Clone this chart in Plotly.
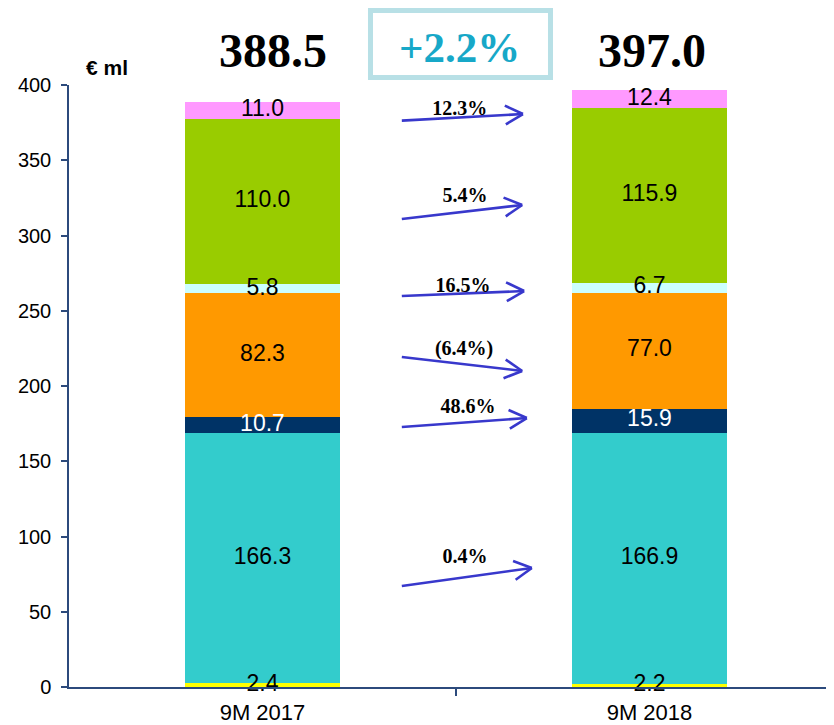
import math
import plotly.graph_objects as go

# ---------------- data ----------------
periods = ["9M 2017", "9M 2018"]
seg_colors = ["#FFFF00", "#33CCCC", "#003366", "#FF9900", "#CCFFFF", "#99CC00", "#FF99FF"]
seg_text_colors = ["black", "black", "white", "black", "black", "black", "black"]
values_2017 = [2.4, 166.3, 10.7, 82.3, 5.8, 110.0, 11.0]
values_2018 = [2.2, 166.9, 15.9, 77.0, 6.7, 115.9, 12.4]
totals = ["388.5", "397.0"]
growth_total = "+2.2%"
growth_labels = ["12.3%", "5.4%", "16.5%", "(6.4%)", "48.6%", "0.4%"]
y_ticks = [0, 50, 100, 150, 200, 250, 300, 350, 400]
unit_label = "€ ml"

# ---------------- arrow layout (positions, not data) ----------------
arrow_start = [(0.360, 376.3), (0.360, 311.0), (0.360, 259.8), (0.360, 219.3), (0.360, 172.8), (0.360, 67.1)]
arrow_end = [(0.673, 380.7), (0.671, 320.3), (0.676, 263.1), (0.671, 210.0), (0.683, 178.7), (0.696, 79.1)]
label_pos = [(0.510, 383.7), (0.523, 325.9), (0.518, 266.1), (0.521, 224.2), (0.531, 185.7), (0.523, 86.0)]

PX_X = 387.0   # pixels per category unit
PX_Y = 1.505   # pixels per value unit

series = [values_2017, values_2018]
fig = go.Figure()

# stacked bars
for k in range(len(seg_colors)):
    fig.add_trace(go.Bar(
        x=[0, 1],
        y=[values_2017[k], values_2018[k]],
        width=0.4,
        marker=dict(color=seg_colors[k], line=dict(width=0)),
        hoverinfo="skip",
        showlegend=False,
    ))

# segment labels
tx, ty, tt, tc = [], [], [], []
for i, vals in enumerate(series):
    cum = 0.0
    for k, v in enumerate(vals):
        tx.append(i)
        ty.append(cum + v / 2.0)
        tt.append(f"{v:.1f}")
        tc.append(seg_text_colors[k])
        cum += v
fig.add_trace(go.Scatter(
    x=tx, y=ty, text=tt, mode="text",
    textfont=dict(family="Liberation Sans, Arial", size=23, color=tc),
    textposition="middle center", cliponaxis=False,
    hoverinfo="skip", showlegend=False,
))

# arrows
ax_, ay_ = [], []
L = 20.0
alpha = math.radians(28)
for (x0, y0), (x1, y1) in zip(arrow_start, arrow_end):
    ax_ += [x0, x1, None]
    ay_ += [y0, y1, None]
    ang = math.atan2((y1 - y0) * PX_Y, (x1 - x0) * PX_X)
    for s in (1, -1):
        a = ang + math.pi + s * alpha
        ex = x1 + L * math.cos(a) / PX_X
        ey = y1 + L * math.sin(a) / PX_Y
        ax_ += [ex, x1, None]
        ay_ += [ey, y1, None]
fig.add_trace(go.Scatter(
    x=ax_, y=ay_, mode="lines",
    line=dict(color="#3838CC", width=2.6),
    hoverinfo="skip", showlegend=False, cliponaxis=False,
))

# growth labels
fig.add_trace(go.Scatter(
    x=[p[0] for p in label_pos], y=[p[1] for p in label_pos],
    text=growth_labels, mode="text",
    textfont=dict(family="Liberation Serif, Times New Roman", size=20, color="black", weight="bold"),
    textposition="middle center", cliponaxis=False,
    hoverinfo="skip", showlegend=False,
))

annotations = []
# totals
for i, (t, xs) in enumerate(zip(totals, [10, 2])):
    annotations.append(dict(
        x=i, y=1.058, xref="x", yref="paper", text=f"<b>{t}</b>", showarrow=False,
        xshift=xs, xanchor="center", yanchor="middle",
        font=dict(family="Liberation Serif, Times New Roman", size=48, color="black"),
    ))
# total growth
annotations.append(dict(
    x=0.511, y=1.0623, xref="paper", yref="paper", text=f"<b>{growth_total}</b>",
    showarrow=False, xanchor="center", yanchor="middle",
    font=dict(family="Liberation Serif, Times New Roman", size=43, color="#17A8C8"),
))
# unit label
annotations.append(dict(
    x=0.0503, y=1.029, xref="paper", yref="paper", text=f"<b>{unit_label}</b>",
    showarrow=False, xanchor="center", yanchor="middle",
    font=dict(family="Liberation Sans, Arial", size=21, color="black"),
))

shapes = [dict(
    type="rect", xref="paper", yref="paper",
    x0=0.3941, x1=0.6294, y0=1.0125, y1=1.1238,
    line=dict(color="#B8E0E6", width=5), fillcolor="rgba(0,0,0,0)",
)]

axis_color = "#2C4A7C"
fig.update_layout(
    width=826, height=717,
    margin=dict(l=61, r=0, t=77, b=38),
    paper_bgcolor="white", plot_bgcolor="white",
    barmode="stack",
    showlegend=False,
    annotations=annotations,
    shapes=shapes,
    xaxis=dict(
        range=[-0.5, -0.5 + 765 / PX_X],
        tickvals=[0, 1], ticktext=periods,
        ticks="", showline=True, linecolor=axis_color, linewidth=1.5,
        showgrid=False, zeroline=False,
        tickfont=dict(family="Liberation Sans, Arial", size=22, color="black"),
        ticklabelstandoff=5,
        minor=dict(tickvals=[0.5], ticks="outside", ticklen=7, tickcolor=axis_color, tickwidth=1.5),
    ),
    yaxis=dict(
        range=[0, 400], tickvals=y_ticks,
        ticks="outside", ticklen=6, tickcolor=axis_color, tickwidth=1.5,
        showline=True, linecolor=axis_color, linewidth=1.5,
        showgrid=False, zeroline=False,
        tickfont=dict(family="Liberation Sans, Arial", size=20, color="black"),
        ticklabelstandoff=6,
    ),
)

fig.write_html("out.html")
